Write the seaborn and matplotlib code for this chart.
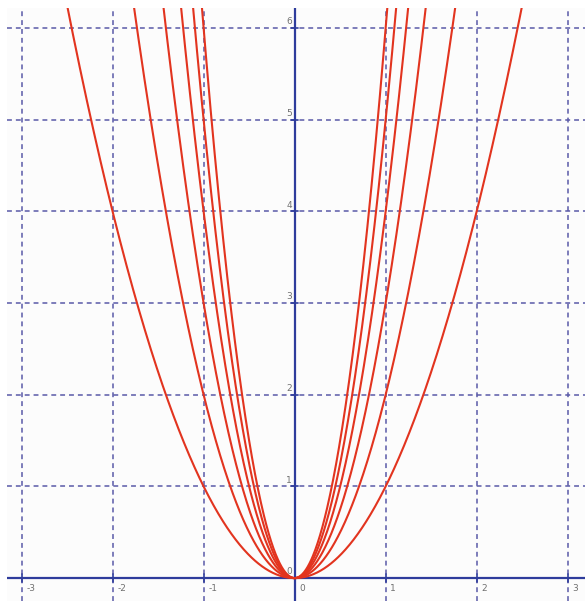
import numpy as np
import pandas as pd
import seaborn as sns
from matplotlib import pyplot as plt

# coefficients of y = a*x^2
koef = [1, 2, 3, 4, 5, 6]
x_ticks = [-3, -2, -1, 0, 1, 2, 3]
y_ticks = [1, 2, 3, 4, 5, 6]
x_lim = (-3.16, 3.19)
y_lim = (-0.25, 6.22)

sns.set_style('white')
plt.rcParams['font.family'] = ['DejaVu Sans']

os_barva = '#2e3c9c'
mreza_barva = '#5a5aa8'
rdeca = '#e2341f'

# tabela krivulj
xs = np.linspace(-2.6, 2.6, 801)
rows = []
for a in koef:
    ys = a * xs ** 2
    m = ys <= y_lim[1] + 0.3
    rows.append(pd.DataFrame({'x': xs[m], 'y': ys[m], 'a': a}))
df = pd.concat(rows, ignore_index=True)

fig = plt.figure(figsize=(5.85, 6.01), dpi=100)
fig.patch.set_facecolor('white')
ax = fig.add_axes([7 / 585, 0, 578 / 585, 593 / 601])
ax.set_facecolor('#fcfcfc')

# mreza
for xt in x_ticks:
    if xt != 0:
        ax.axvline(xt, color=mreza_barva, lw=1.1, ls=(0, (3.2, 2.6)), zorder=1)
for yt in y_ticks:
    ax.axhline(yt, color=mreza_barva, lw=1.1, ls=(0, (3.2, 2.6)), zorder=1)

# osi
ax.axhline(0, color=os_barva, lw=1.6, zorder=2)
ax.axvline(0, color=os_barva, lw=1.6, zorder=2)

sns.lineplot(data=df, x='x', y='y', units='a', estimator=None, sort=False,
             color=rdeca, lw=1.5, ax=ax, zorder=3, legend=False)

# oznake na oseh
for xt in x_ticks:
    ax.plot([xt, xt], [-0.04, 0.04], color=os_barva, lw=1.2, zorder=2)
    ax.text(xt + 0.05, -0.06, str(xt), fontsize=6.5, color='#707070',
            ha='left', va='top', zorder=4)
for yt in y_ticks:
    ax.plot([-0.04, 0.04], [yt, yt], color=os_barva, lw=1.2, zorder=2)
    ax.text(-0.03, yt + 0.02, str(yt), fontsize=6.5, color='#707070',
            ha='right', va='bottom', zorder=4)
ax.text(-0.03, 0.02, '0', fontsize=6.5, color='#707070', ha='right', va='bottom', zorder=4)

ax.set_xlim(*x_lim)
ax.set_ylim(*y_lim)
ax.set_xticks([])
ax.set_yticks([])
ax.set_xlabel('')
ax.set_ylabel('')
for s in ax.spines.values():
    s.set_visible(False)

fig.savefig('out.png', dpi=100)
